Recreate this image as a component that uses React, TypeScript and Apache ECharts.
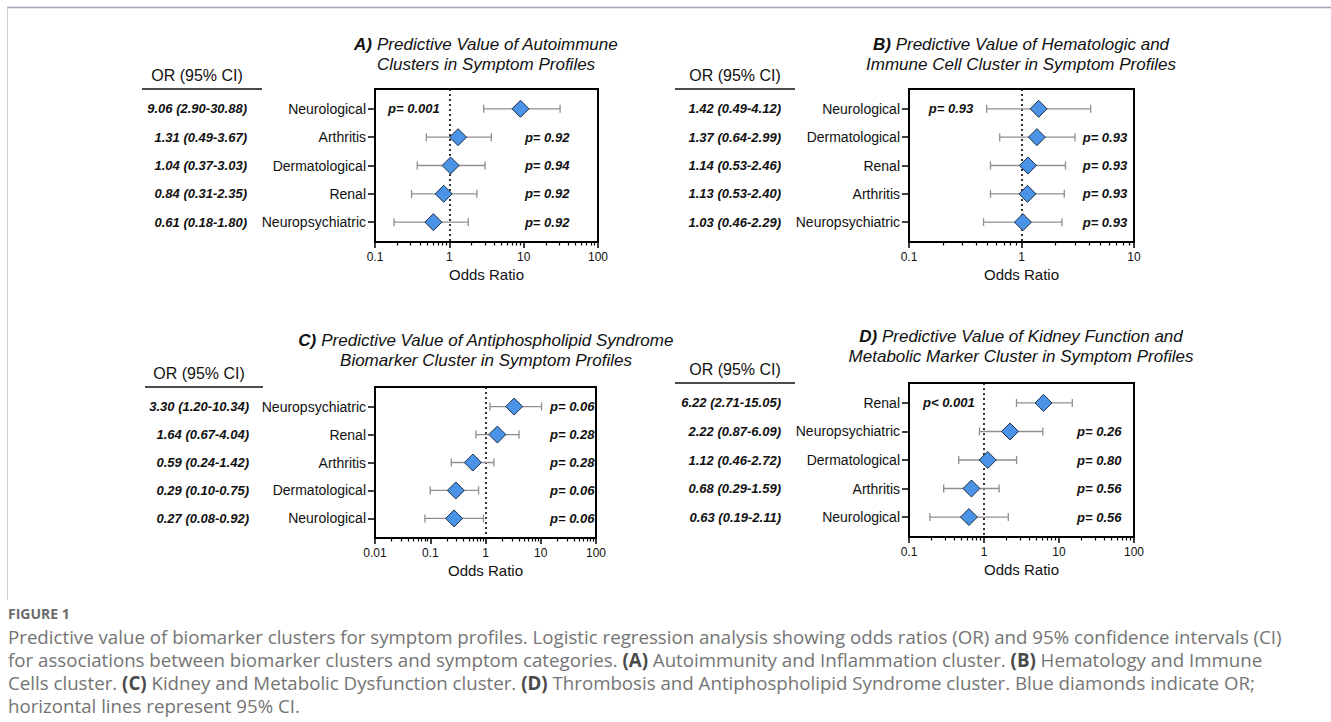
import React, { useEffect, useRef } from "react";
import * as echarts from "echarts";

// ---------- Data ----------
// Panel A: Autoimmune clusters
const catsA = ["Neurological", "Arthritis", "Dermatological", "Renal", "Neuropsychiatric"];
const orA = [9.06, 1.31, 1.04, 0.84, 0.61];
const loA = [2.9, 0.49, 0.37, 0.31, 0.18];
const hiA = [30.88, 3.67, 3.03, 2.35, 1.8];
const pA = ["p= 0.001", "p= 0.92", "p= 0.94", "p= 0.92", "p= 0.92"];

// Panel B: Hematologic and immune cell cluster
const catsB = ["Neurological", "Dermatological", "Renal", "Arthritis", "Neuropsychiatric"];
const orB = [1.42, 1.37, 1.14, 1.13, 1.03];
const loB = [0.49, 0.64, 0.53, 0.53, 0.46];
const hiB = [4.12, 2.99, 2.46, 2.4, 2.29];
const pB = ["p= 0.93", "p= 0.93", "p= 0.93", "p= 0.93", "p= 0.93"];

// Panel C: Antiphospholipid syndrome biomarker cluster
const catsC = ["Neuropsychiatric", "Renal", "Arthritis", "Dermatological", "Neurological"];
const orC = [3.3, 1.64, 0.59, 0.29, 0.27];
const loC = [1.2, 0.67, 0.24, 0.1, 0.08];
const hiC = [10.34, 4.04, 1.42, 0.75, 0.92];
const pC = ["p= 0.06", "p= 0.28", "p= 0.28", "p= 0.06", "p= 0.06"];

// Panel D: Kidney function and metabolic marker cluster
const catsD = ["Renal", "Neuropsychiatric", "Dermatological", "Arthritis", "Neurological"];
const orD = [6.22, 2.22, 1.12, 0.68, 0.63];
const loD = [2.71, 0.87, 0.46, 0.29, 0.19];
const hiD = [15.05, 6.09, 2.72, 1.59, 2.11];
const pD = ["p< 0.001", "p= 0.26", "p= 0.80", "p= 0.56", "p= 0.56"];

// Axis tick values (decades)
const ticksA = [0.1, 1, 10, 100];
const ticksB = [0.1, 1, 10];
const ticksC = [0.01, 0.1, 1, 10, 100];
const ticksD = [0.1, 1, 10, 100];

const titlesA = ["A)", "Predictive Value of Autoimmune", "Clusters in Symptom Profiles"];
const titlesB = ["B)", "Predictive Value of Hematologic and", "Immune Cell Cluster in Symptom Profiles"];
const titlesC = ["C)", "Predictive Value of Antiphospholipid Syndrome", "Biomarker Cluster in Symptom Profiles"];
const titlesD = ["D)", "Predictive Value of Kidney Function and", "Metabolic Marker Cluster in Symptom Profiles"];

const captionLines = [
  "Predictive value of biomarker clusters for symptom profiles. Logistic regression analysis showing odds ratios (OR) and 95% confidence intervals (CI)",
  "for associations between biomarker clusters and symptom categories. {b|(A)} Autoimmunity and Inflammation cluster. {b|(B)} Hematology and Immune",
  "Cells cluster. {b|(C)} Kidney and Metabolic Dysfunction cluster. {b|(D)} Thrombosis and Antiphospholipid Syndrome cluster. Blue diamonds indicate OR;",
  "horizontal lines represent 95% CI.",
];

// ---------- Layout / style ----------
const FONT = "'Liberation Sans', Arial, Helvetica, sans-serif";
const CAP_FONT = "'Open Sans', 'Noto Sans', sans-serif";

type Panel = {
  cats: string[]; or: number[]; lo: number[]; hi: number[]; p: string[];
  ticks: number[]; titles: string[];
  grid: { left: number; top: number; width: number; height: number };
  orOffset: number;
  pLeftX: number; pRightX: number; pLeftRows: number[];
  titleX: number; titleY: number;
  headX: number; headY: number; ruleX1: number; ruleX2: number;
};

const panels: Panel[] = [
  {
    cats: catsA, or: orA, lo: loA, hi: hiA, p: pA, ticks: ticksA, titles: titlesA,
    grid: { left: 375, top: 89, width: 223, height: 153 }, orOffset: 120,
    pLeftX: 0.15, pRightX: 10.4, pLeftRows: [0],
    titleX: 486, titleY: 34, headX: 197, headY: 75, ruleX1: 142, ruleX2: 262,
  },
  {
    cats: catsB, or: orB, lo: loB, hi: hiB, p: pB, ticks: ticksB, titles: titlesB,
    grid: { left: 909, top: 89, width: 225, height: 153 }, orOffset: 120,
    pLeftX: 0.15, pRightX: 3.5, pLeftRows: [0],
    titleX: 1021, titleY: 34, headX: 735, headY: 75, ruleX1: 675, ruleX2: 795,
  },
  {
    cats: catsC, or: orC, lo: loC, hi: hiC, p: pC, ticks: ticksC, titles: titlesC,
    grid: { left: 375, top: 387, width: 221, height: 151 }, orOffset: 118,
    pLeftX: 0.015, pRightX: 14.7, pLeftRows: [],
    titleX: 486, titleY: 330, headX: 199, headY: 373, ruleX1: 145, ruleX2: 263,
  },
  {
    cats: catsD, or: orD, lo: loD, hi: hiD, p: pD, ticks: ticksD, titles: titlesD,
    grid: { left: 909, top: 383, width: 225, height: 154 }, orOffset: 120,
    pLeftX: 0.154, pRightX: 17.4, pLeftRows: [0],
    titleX: 1021, titleY: 326, headX: 735, headY: 369, ruleX1: 675, ruleX2: 795,
  },
];

const fmtNum = (v: number) => String(parseFloat(Number(v).toPrecision(6)));

function minorTicks(decades: number[]) {
  const out: number[] = [];
  for (let i = 0; i < decades.length - 1; i++) {
    for (let k = 2; k <= 9; k++) out.push(parseFloat((decades[i] * k).toPrecision(6)));
  }
  return out;
}

function buildOption() {
  const grid: any[] = [];
  const xAxis: any[] = [];
  const yAxis: any[] = [];
  const series: any[] = [];
  const graphic: any[] = [];

  panels.forEach((P, i) => {
    const rows = P.cats.map((_, k) => k + 1);
    grid.push({ ...P.grid, show: true, borderColor: "#000", borderWidth: 2, backgroundColor: "transparent" });

    const xMin = P.ticks[0];
    const xMax = P.ticks[P.ticks.length - 1];
    xAxis.push({
      type: "log", logBase: 10, gridIndex: i, min: xMin, max: xMax, position: "bottom",
      axisLine: { show: true, onZero: false, lineStyle: { color: "#000", width: 2 } },
      axisTick: { show: true, customValues: P.ticks, length: 6, lineStyle: { color: "#000", width: 1.5 } },
      axisLabel: { customValues: P.ticks, formatter: (v: number) => fmtNum(v), margin: 9, fontSize: 12, color: "#111", fontFamily: FONT },
      splitLine: { show: false },
      name: "Odds Ratio", nameLocation: "middle", nameGap: 25,
      nameTextStyle: { fontSize: 15, color: "#111", fontFamily: FONT },
    });
    xAxis.push({
      type: "log", logBase: 10, gridIndex: i, min: xMin, max: xMax, position: "bottom",
      axisLine: { show: false, onZero: false },
      axisTick: { show: true, customValues: minorTicks(P.ticks), length: 3.5, lineStyle: { color: "#000", width: 1.2 } },
      axisLabel: { show: false },
      splitLine: { show: false },
    });

    yAxis.push({
      type: "value", gridIndex: i, min: 0.3, max: 5.7, inverse: true, position: "left",
      axisLine: { show: true, onZero: false, lineStyle: { color: "#000", width: 2 } },
      axisTick: { show: true, customValues: rows, length: 7, lineStyle: { color: "#000", width: 1.5 } },
      axisLabel: { customValues: rows, formatter: (v: number) => P.cats[Math.round(v) - 1] || "", margin: 9, fontSize: 14, color: "#111", fontFamily: FONT },
      splitLine: { show: false },
    });
    yAxis.push({
      type: "value", gridIndex: i, min: 0.3, max: 5.7, inverse: true, position: "left", offset: P.orOffset,
      axisLine: { show: false, onZero: false },
      axisTick: { show: false },
      axisLabel: {
        customValues: rows,
        formatter: (v: number) => {
          const k = Math.round(v) - 1;
          if (k < 0 || k >= P.or.length) return "";
          return `${P.or[k].toFixed(2)} (${P.lo[k].toFixed(2)}-${P.hi[k].toFixed(2)})`;
        },
        margin: 8, fontSize: 13, fontWeight: "bold", fontStyle: "italic", color: "#111", fontFamily: FONT,
      },
      splitLine: { show: false },
    });

    const xi = 2 * i;
    const yi = 2 * i;

    // Confidence interval bars
    series.push({
      type: "custom", xAxisIndex: xi, yAxisIndex: yi, z: 2, silent: true,
      encode: { x: [0, 1], y: 2 },
      data: P.cats.map((_, k) => [P.lo[k], P.hi[k], k + 1]),
      renderItem: (params: any, api: any) => {
        const r = api.value(2);
        const a = api.coord([api.value(0), r]);
        const b = api.coord([api.value(1), r]);
        const h = 4;
        const st = { stroke: "#8f8f8f", lineWidth: 1.3 };
        return {
          type: "group",
          children: [
            { type: "line", shape: { x1: a[0], y1: a[1], x2: b[0], y2: b[1] }, style: st },
            { type: "line", shape: { x1: a[0], y1: a[1] - h, x2: a[0], y2: a[1] + h }, style: st },
            { type: "line", shape: { x1: b[0], y1: b[1] - h, x2: b[0], y2: b[1] + h }, style: st },
          ],
        };
      },
    });

    // Odds ratio diamonds + reference line at OR = 1
    series.push({
      type: "scatter", xAxisIndex: xi, yAxisIndex: yi, z: 3, silent: true,
      symbol: "diamond", symbolSize: 17,
      itemStyle: { color: "#4b93e6", borderColor: "#1d2f45", borderWidth: 1, opacity: 1 },
      data: P.cats.map((_, k) => [P.or[k], k + 1]),
      markLine: {
        silent: true, symbol: "none", z: 1, animation: false,
        label: { show: false },
        lineStyle: { color: "#000", type: [2, 3], width: 1.6 },
        data: [{ xAxis: 1 }],
      },
    });

    // p-value labels
    series.push({
      type: "custom", xAxisIndex: xi, yAxisIndex: yi, z: 4, silent: true,
      encode: { x: 0, y: 1 },
      data: P.p.map((_, k) => [P.pLeftRows.includes(k) ? P.pLeftX : P.pRightX, k + 1]),
      renderItem: (params: any, api: any) => {
        const k = params.dataIndex;
        const pt = api.coord([api.value(0), api.value(1)]);
        return {
          type: "text", x: pt[0], y: pt[1],
          style: {
            text: P.p[k], fontSize: 13, fontWeight: "bold", fontStyle: "italic", fontFamily: FONT,
            fill: "#111", align: "left", verticalAlign: "middle",
          },
        };
      },
    });

    // Title
    graphic.push({
      type: "text", x: P.titleX, y: P.titleY, silent: true,
      style: {
        text: `{b|${P.titles[0]}} ${P.titles[1]}\n${P.titles[2]}`,
        fontSize: 17, fontStyle: "italic", fontFamily: FONT, fill: "#111",
        align: "center", verticalAlign: "top", lineHeight: 20,
        rich: { b: { fontSize: 17, fontWeight: "bold", fontStyle: "italic", fontFamily: FONT, fill: "#111", lineHeight: 20 } },
      },
    });
    // OR header + rule
    graphic.push({
      type: "text", x: P.headX, y: P.headY, silent: true,
      style: { text: "OR (95% CI)", fontSize: 16, fontFamily: FONT, fill: "#111", align: "center", verticalAlign: "middle" },
    });
    graphic.push({
      type: "line", silent: true,
      shape: { x1: P.ruleX1, y1: P.grid.top, x2: P.ruleX2, y2: P.grid.top },
      style: { stroke: "#111", lineWidth: 1.5 },
    });
  });

  // Page frame lines
  graphic.push({ type: "line", silent: true, shape: { x1: 7, y1: 7.5, x2: 1331, y2: 7.5 }, style: { stroke: "#a3a3b3", lineWidth: 1.5 } });
  graphic.push({ type: "line", silent: true, shape: { x1: 7.5, y1: 7.5, x2: 7.5, y2: 600 }, style: { stroke: "#cfcfcf", lineWidth: 1 } });

  // Caption
  graphic.push({
    type: "text", x: 8, y: 613, silent: true,
    style: { text: "FIGURE 1", fontSize: 14, fontWeight: "bold", fontFamily: CAP_FONT, fill: "#6a6a6a", align: "left", verticalAlign: "middle" },
  });
  graphic.push({
    type: "text", x: 8, y: 625, silent: true,
    style: {
      text: captionLines.join("\n"),
      fontSize: 18.7, fontFamily: CAP_FONT, fill: "#747474", align: "left", verticalAlign: "top", lineHeight: 23,
      rich: { b: { fontSize: 18.7, fontWeight: "bold", fontFamily: CAP_FONT, fill: "#4a4a4a", lineHeight: 23 } },
    },
  });

  return {
    animation: false,
    backgroundColor: "#fff",
    grid, xAxis, yAxis, series, graphic,
  };
}

export default function App() {
  const ref = useRef<HTMLDivElement>(null);
  useEffect(() => {
    if (!ref.current) return;
    const chart = echarts.init(ref.current, null, { renderer: "svg" });
    chart.setOption(buildOption() as any);
    return () => chart.dispose();
  }, []);
  return (
    <div
      ref={ref}
      style={{ position: "absolute", left: 0, top: 0, width: 1331, height: 722, background: "#fff" }}
    />
  );
}
